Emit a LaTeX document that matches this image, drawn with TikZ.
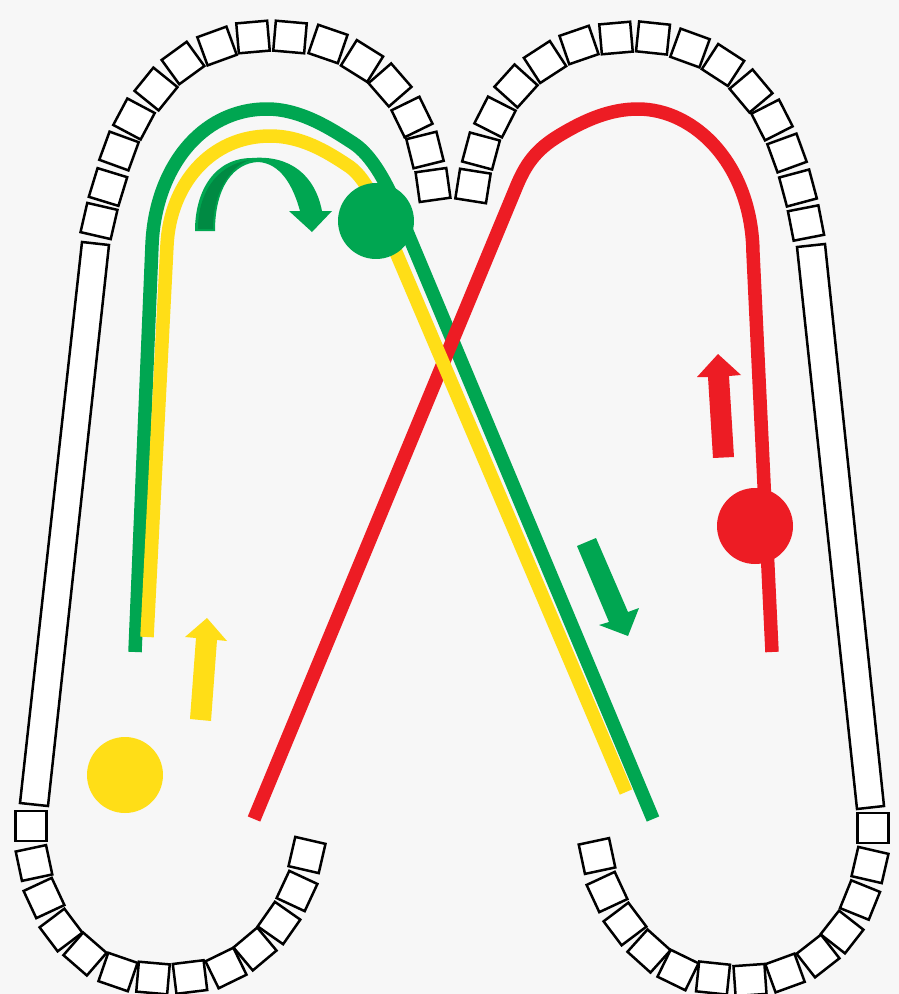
\documentclass[tikz,border=0pt]{standalone}
\definecolor{fond}{HTML}{F7F7F7}
\definecolor{vert}{HTML}{00A651}
\definecolor{vertfonce}{HTML}{008A43}
\definecolor{jaune}{HTML}{FFDE17}
\definecolor{rouge}{HTML}{ED1C24}
\tikzset{
  brique/.style={draw=black,fill=white,line width=0.05cm,minimum width=0.62cm,minimum height=0.6cm,inner sep=0pt},
  dalle/.style={draw=black,fill=white,line width=0.05cm},
  bille/.style={circle,minimum size=1.52cm,inner sep=0pt},
  trajet/.style={line width=0.27cm,line join=round},
}
\begin{document}
\begin{tikzpicture}[x=0.02cm,y=-0.02cm]
% Deux pistes de briques et trois trajets
\fill[fond] (0,0) rectangle (899,994);
\useasboundingbox (0,0) rectangle (899,994);
\foreach \px/\py/\ang [count=\i] in {99/221/-13,108/187/-17,119/151/-20,134/119/-28,156/89/-39,183/63/36,217/46/20,253/37/5,290/37/-5,328/44/-19,362/61/-32,390/85/-49,412/117/26,425/150/14,433/185/8,
  473/186/-9,481/151/-15,495/117/-27,516/86/-42,545/62/33,579/45/19,616/38/5,653/38/-6,690/48/-20,723/65/-33,751/91/-50,772/120/27,787/153/20,798/188/15,806/223/11,
  31/826/0,34/863/12,44/898/25,61/930/37,85/954/-41,118/972/-19,153/978/-5,190/977/7,226/968/26,255/949/40,279/923/-35,297/891/-25,307/855/-13,
  597/856/12,607/892/25,625/924/37,649/951/-42,678/970/-26,713/978/-6,750/980/4,785/973/20,818/956/38,842/932/-38,860/900/-22,870/865/-13,873/828/0}
  \node[brique,rotate=\ang] (brique\i) at (\px,\py) {};
\draw[dalle] (82,242) -- (109,245) -- (48,806) -- (20,803) -- cycle;
\draw[dalle] (797,247) -- (825,244) -- (884,806) -- (857,809) -- cycle;
\draw[trajet,vert] (135,652) -- (152,245) .. controls (155,170) and (200,109) .. (267,109) .. controls (300,109) and (330,128) .. (353,143) .. controls (372,155) and (388,185) .. (400,215) -- (653,819);
\draw[trajet,rouge] (254,819) -- (515,190) .. controls (525,165) and (535,150) .. (560,135) .. controls (585,120) and (610,109) .. (638,109) .. controls (695,109) and (752,165) .. (753,253) -- (772,652);
\draw[trajet,jaune] (147,637) -- (167,245) .. controls (170,185) and (210,136) .. (270,136) .. controls (300,136) and (325,150) .. (350,167) .. controls (368,180) and (382,215) .. (395,250) -- (626,792);
\node[bille,fill=vert] (billeverte) at (376,221) {};
\node[bille,fill=jaune] (billejaune) at (125,775) {};
\node[bille,fill=rouge] (billerouge) at (755,526) {};
\fill[jaune] (190,719) -- (196,638) -- (185,637) -- (207,618) -- (227,641) -- (217,640) -- (211,721) -- cycle;
\fill[rouge] (713,458) -- (708,377) -- (697,377) -- (718,354) -- (741,375) -- (729,376) -- (734,457) -- cycle;
\fill[vert] (577,546) -- (596,538) -- (628,612) -- (639,608) -- (628,636) -- (599,625) -- (609,622) -- cycle;
\fill[vert] (195,231) .. controls (195,190) and (215,158) .. (252,158) .. controls (290,155) and (315,175) .. (322,211) -- (332,211) -- (312,232) -- (289,211) -- (300,211) .. controls (293,185) and (280,163) .. (258,162) .. controls (235,163) and (215,185) .. (215,231) -- cycle;
\fill[vertfonce] (198,229) .. controls (198,195) and (215,165) .. (250,160) .. controls (232,165) and (213,190) .. (213,229) -- cycle;
\end{tikzpicture}
\end{document}
